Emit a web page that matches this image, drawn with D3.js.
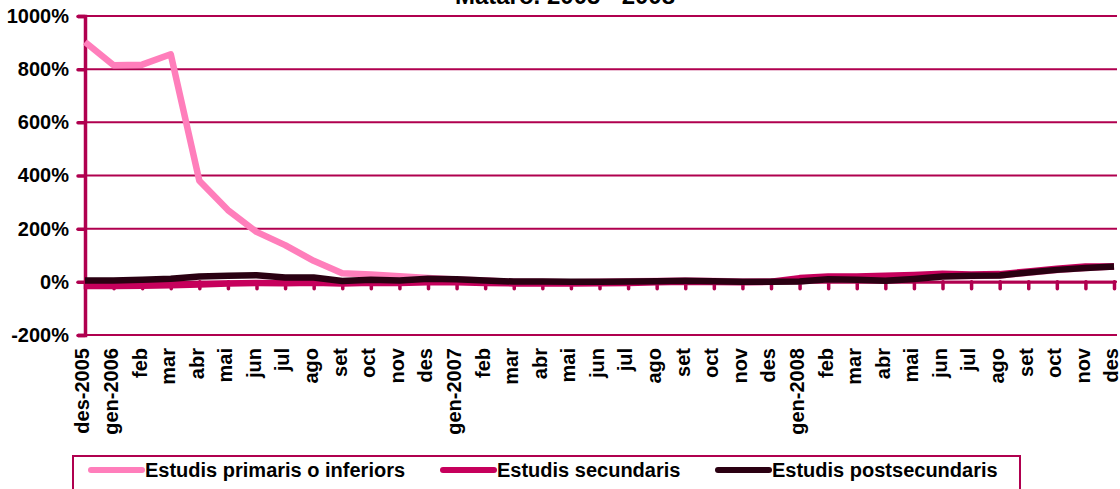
<!DOCTYPE html>
<html>
<head>
<meta charset="utf-8">
<script src="https://cdn.jsdelivr.net/npm/d3@7"></script>
<style>
  html, body { margin: 0; padding: 0; background: #fff; overflow: hidden; }
  svg { display: block; font-family: "Liberation Sans", Arial, sans-serif; font-weight: bold; }
</style>
</head>
<body>
<div id="chart"></div>
<script>
const months = ['des-2005', 'gen-2006', 'feb', 'mar', 'abr', 'mai', 'jun', 'jul', 'ago', 'set', 'oct', 'nov', 'des',
    'gen-2007', 'feb', 'mar', 'abr', 'mai', 'jun', 'jul', 'ago', 'set', 'oct', 'nov', 'des',
    'gen-2008', 'feb', 'mar', 'abr', 'mai', 'jun', 'jul', 'ago', 'set', 'oct', 'nov', 'des'];

const primaris = [902, 815, 817, 856, 380, 270, 188, 138, 79, 32, 28, 21, 14,
    9, 5, 0, 0, -2, 0, 2, 3, 5, 3, 1, 1,
    2, 12, 10, 8, 14, 22, 22, 24, 34, 44, 52, 58];
const secundaris = [-16, -16, -15, -13, -10, -6, -4, -5, -3, -6, -3, -4, -2,
    -2, -4, -6, -6, -6, -5, -4, -2, 0, -1, -2, 0,
    14, 20, 20, 23, 26, 30, 28, 29, 39, 49, 58, 58];
const postsecundaris = [5, 5, 8, 12, 20, 23, 25, 16, 16, 3, 8, 5, 12,
    10, 5, 1, 1, 0, 0, 1, 2, 4, 2, 0, 0,
    1, 10, 8, 4, 11, 20, 23, 24, 35, 45, 52, 58];

const seriesNames = ['Estudis primaris o inferiors', 'Estudis secundaris', 'Estudis postsecundaris'];
const seriesColors = ['#ff7ebb', '#c6005c', '#2a0012'];
const yTicks = [-200, 0, 200, 400, 600, 800, 1000];

const W = 1120, H = 489;
const axisColor = '#b0004f';

const svg = d3.select('#chart').append('svg')
    .attr('width', W)
    .attr('height', H);

// title (first line falls outside the picture)
svg.append('text')
    .attr('x', 565)
    .attr('y', 4)
    .attr('text-anchor', 'middle')
    .style('font-size', '24px')
    .text('Mataró. 2005 - 2008');

const x = d3.scalePoint()
    .domain(d3.range(months.length))
    .range([85, 1114]);

const y = d3.scaleLinear()
    .domain([-200, 1000])
    .range([335, 16]);

// gridlines
svg.append('g')
    .selectAll('line')
    .data(yTicks)
    .join('line')
    .attr('x1', 85).attr('x2', 1117)
    .attr('y1', d => y(d)).attr('y2', d => y(d))
    .attr('stroke', axisColor)
    .attr('stroke-width', 2);

// y axis
const yAxis = svg.append('g')
    .attr('transform', 'translate(85,0)')
    .call(d3.axisLeft(y).tickValues(yTicks).tickSize(7).tickPadding(9).tickFormat(d => d + '%'));
yAxis.select('.domain').attr('stroke', axisColor).attr('stroke-width', 3.5);
yAxis.selectAll('.tick line').attr('stroke', axisColor).attr('stroke-width', 3.5).attr('stroke-linecap', 'round');
yAxis.selectAll('.tick text')
    .attr('fill', '#000')
    .style('font-size', '20px')
    .style('font-family', '"Liberation Sans", Arial, sans-serif')
    .style('font-weight', 'bold');

// x axis at zero, with ticks only
const xAxis = svg.append('g')
    .attr('transform', `translate(0,${y(0)})`)
    .call(d3.axisBottom(x).tickSize(7).tickSizeOuter(0).tickFormat(''));
xAxis.select('.domain').attr('stroke', axisColor).attr('stroke-width', 3);
xAxis.selectAll('.tick line').attr('stroke', axisColor).attr('stroke-width', 3.5).attr('stroke-linecap', 'round');

// category labels, low position
svg.append('g')
    .selectAll('text')
    .data(months)
    .join('text')
    .attr('transform', (d, i) => `translate(${x(i)},348) rotate(-90)`)
    .attr('text-anchor', 'end')
    .attr('dy', '0.22em')
    .style('font-size', '20px')
    .text(d => d);

// lines
const line = d3.line()
    .x((d, i) => x(i))
    .y(d => y(d));

svg.append('g')
    .selectAll('path')
    .data([primaris, secundaris, postsecundaris])
    .join('path')
    .attr('d', line)
    .attr('fill', 'none')
    .attr('stroke', (d, i) => seriesColors[i])
    .attr('stroke-width', 6.5)
    .attr('stroke-linejoin', 'round');

// legend
svg.append('rect')
    .attr('x', 73).attr('y', 456)
    .attr('width', 947).attr('height', 60)
    .attr('fill', 'none')
    .attr('stroke', axisColor)
    .attr('stroke-width', 2);

const legendX = [91, 443, 718];
const legend = svg.append('g')
    .selectAll('g')
    .data(seriesNames)
    .join('g')
    .attr('transform', (d, i) => `translate(${legendX[i]},470)`);

legend.append('line')
    .attr('x1', 0).attr('x2', 51)
    .attr('stroke', (d, i) => seriesColors[i])
    .attr('stroke-width', 6)
    .attr('stroke-linecap', 'round');

legend.append('text')
    .attr('x', 54)
    .attr('dy', '0.36em')
    .style('font-size', '20px')
    .text(d => d);
</script>
</body>
</html>
